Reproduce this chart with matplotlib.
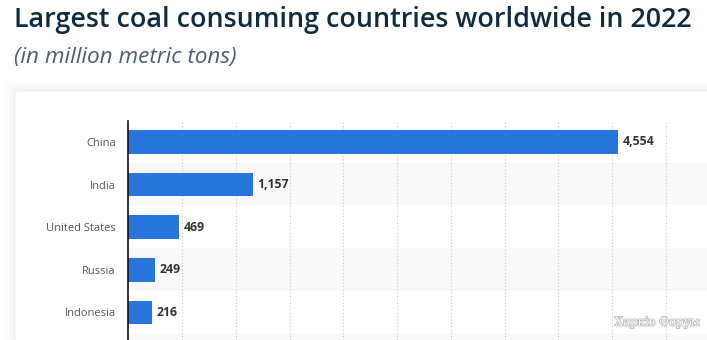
import matplotlib
matplotlib.use("Agg")
import matplotlib.pyplot as plt
from matplotlib.patches import FancyBboxPatch
import matplotlib.patheffects as pe

countries = ["China", "India", "United States", "Russia", "Indonesia"]
consumption = [4554, 1157, 469, 249, 216]
grid_ticks = [500, 1000, 1500, 2000, 2500, 3000, 3500, 4000, 4500, 5000]

W, H = 707, 340
plt.rcParams['font.family'] = ['Open Sans', 'DejaVu Sans']

fig = plt.figure(figsize=(W / 100, H / 100), dpi=100, facecolor="white")

# card with a soft shadow
for i, a in enumerate([0.018, 0.014, 0.010, 0.007]):
    g = 2 + i * 3
    fig.patches.append(FancyBboxPatch(((15 - g) / W, 0), (W - 15 + 2 * g) / W, (H - 91 + g) / H,
                                      boxstyle="round,pad=0,rounding_size=0.01",
                                      transform=fig.transFigure, facecolor="#1a2a40",
                                      edgecolor="none", alpha=a, zorder=-2))
fig.patches.append(FancyBboxPatch((15 / W, -0.05), (W - 15 + 20) / W, (H - 91) / H + 0.05,
                                  boxstyle="round,pad=0,rounding_size=0.008",
                                  transform=fig.transFigure, facecolor="white",
                                  edgecolor="#eeeff1", linewidth=0.8, zorder=-1))

fig.text(14 / W, 1 - 20 / H, "Largest coal consuming countries worldwide in 2022",
         fontsize=19.4, fontweight="semibold", color="#0f2b40", va="center", ha="left")
fig.text(14 / W, 1 - 58 / H, "(in million metric tons)", fontsize=16.2, style="italic",
         color="#4c5d70", va="center", ha="left")

ax = fig.add_axes([128.3 / W, 0, 1 - 128.3 / W, 1 - 120.7 / H])
ax.set_zorder(2)
ax.set_facecolor("none")
xmax = (W - 128.3) / 53.75 * 500
ax.set_xlim(0, xmax)
ax.set_ylim(4.648, -0.5)

# alternating row bands
for i in range(1, 6, 2):
    ax.axhspan(i - 0.5, i + 0.5, color="#f8f8f8", zorder=0, linewidth=0)

for t in grid_ticks:
    ax.axvline(t, color="#c8c8c8", linewidth=0.8, linestyle=(0, (1, 2)), zorder=1)

y = list(range(len(countries)))
ax.barh(y, consumption, height=0.55, color="#2876dc", zorder=2)

for yi, v in zip(y, consumption):
    ax.text(v + 45, yi, f"{v:,}", va="center", ha="left", fontsize=8.8,
            fontweight="bold", color="#333333", zorder=3)

ax.set_yticks(y)
ax.set_yticklabels(countries, fontsize=8, color="#555555")
ax.tick_params(axis="y", length=0, pad=9)
ax.set_xticks([])
for s in ["top", "right", "bottom"]:
    ax.spines[s].set_visible(False)
ax.spines["left"].set_color("#111111")
ax.spines["left"].set_linewidth(1.2)

fig.text(657 / W, 1 - 322 / H, "Харків Форум", fontsize=8.5, family="DejaVu Serif",
         color="white", ha="center", va="center", zorder=5,
         path_effects=[pe.withStroke(linewidth=1.2, foreground="#bdbdbd")])

fig.savefig("out.png", dpi=100, facecolor="white")
